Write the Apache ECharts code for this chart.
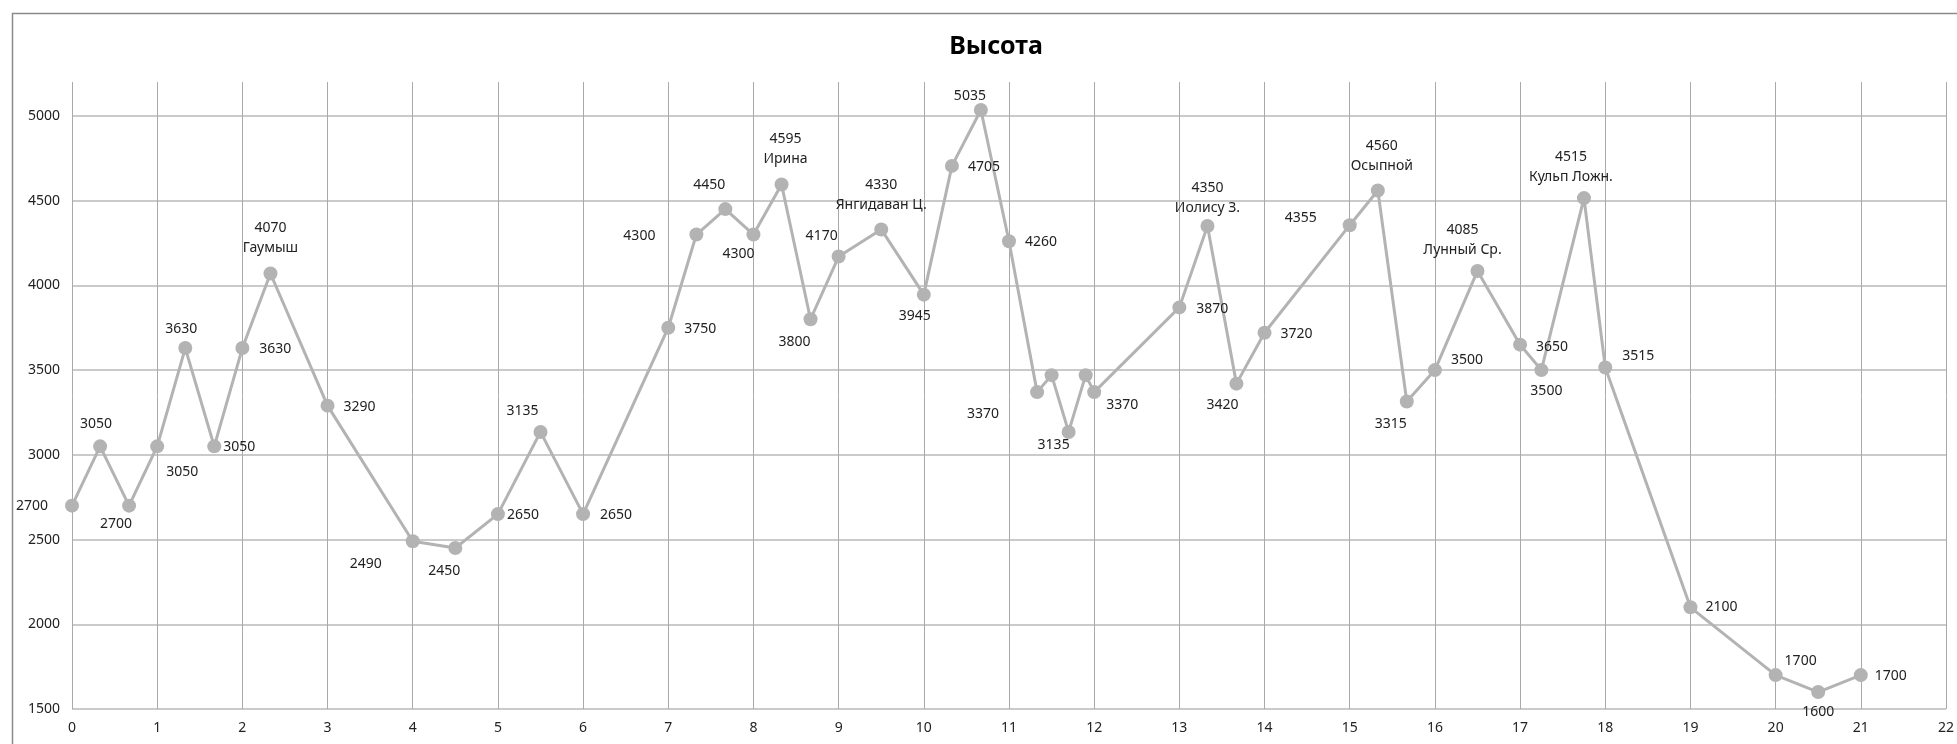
<!DOCTYPE html>
<html>
<head>
<meta charset="utf-8">
<script src="https://cdn.jsdelivr.net/npm/echarts@6/dist/echarts.min.js"></script>
<style>html,body{margin:0;padding:0;background:#fff}#c{width:1957px;height:744px}</style>
</head>
<body>
<div id="c"></div>
<script>
// ---- data ----
const titleText = 'Высота';
const distances = [0, 0.33, 0.67, 1, 1.33, 1.67, 2, 2.33, 3, 4, 4.5, 5, 5.5, 6, 7, 7.33, 7.67, 8, 8.33, 8.67, 9, 9.5, 10, 10.33, 10.67, 11, 11.33, 11.5, 11.7, 11.9, 12, 13, 13.33, 13.67, 14, 15, 15.33, 15.67, 16, 16.5, 17, 17.25, 17.75, 18, 19, 20, 20.5, 21];
const heights = [2700, 3050, 2700, 3050, 3630, 3050, 3630, 4070, 3290, 2490, 2450, 2650, 3135, 2650, 3750, 4300, 4450, 4300, 4595, 3800, 4170, 4330, 3945, 4705, 5035, 4260, 3370, 3470, 3135, 3470, 3370, 3870, 4350, 3420, 3720, 4355, 4560, 3315, 3500, 4085, 3650, 3500, 4515, 3515, 2100, 1700, 1600, 1700];
const pointNames = ['', '', '', '', '', '', '', 'Гаумыш', '', '', '', '', '', '', '', '', '', '', 'Ирина', '', '', 'Янгидаван Ц.', '', '', '', '', '', '', '', '', '', '', 'Иолису З.', '', '', '', 'Осыпной', '', '', 'Лунный Ср.', '', '', 'Кульп Ложн.', '', '', '', '', ''];
const showLabel = [1,1,1,1,1,1,1,1,1,1,1,1,1,1,1,1,1,1,1,1,1,1,1,1,1,1,1,0,1,0,1,1,1,1,1,1,1,1,1,1,1,1,1,1,1,1,1,1];
const xTicks = {min: 0, max: 22, step: 1};
const yTicks = {min: 1500, max: 5200, step: 500};

// ---- label placement (style only): label centre relative to point centre ----
const labelOffsets = [
  [-40,0],[-4,-22],[-13,18],[25,26],[-4,-19],[25,1],[33,1],[0,-35],[32,1],[-47,23],
  [-11,23],[25,1],[-18,-21],[33,1],[32,1],[-57,2],[-16,-24],[-15,20],[4,-36],[-16,23],
  [-17,-21],[0,-34],[-9,21],[32,1],[-11,-14],[32,1],[-54,22],[0,0],[-15,13],[0,0],
  [28,13],[33,2],[0,-28],[-14,21],[32,1],[-49,-7],[4,-34],[-16,23],[32,-10],[-15,-31],
  [32,2],[5,21],[-13,-31],[33,-12],[31,0],[25,-14],[0,20],[30,1]
];

const FONT = "'Noto Sans', sans-serif";
const seriesData = distances.map((d, i) => ({
  value: [d, heights[i]],
  label: {
    show: !!showLabel[i],
    formatter: pointNames[i] ? heights[i] + '\n' + pointNames[i] : String(heights[i])
  }
}));

const chart = echarts.init(document.getElementById('c'), null, {renderer: 'canvas'});
chart.setOption({
  backgroundColor: '#ffffff',
  animation: false,
  textStyle: {fontFamily: FONT},
  title: {
    text: titleText,
    left: 991, top: 29,
    textAlign: 'center',
    textStyle: {fontFamily: FONT, fontWeight: 'bold', fontSize: 25, color: '#000'}
  },
  graphic: [{
    type: 'rect', left: 10, top: 11, silent: true,
    shape: {width: 2100, height: 900},
    style: {fill: 'none', stroke: '#8a8a8a', lineWidth: 1.5}
  }],
  grid: {left: 72, right: 11, top: 82, bottom: 35, containLabel: false},
  xAxis: {
    type: 'value', min: xTicks.min, max: xTicks.max, interval: xTicks.step,
    axisLine: {show: false}, axisTick: {show: false},
    axisLabel: {color: '#222', fontSize: 14, fontFamily: FONT, margin: 12},
    splitLine: {show: true, lineStyle: {color: '#a9a9a9', width: 1}}
  },
  yAxis: {
    type: 'value', min: yTicks.min, max: yTicks.max, interval: yTicks.step,
    axisLine: {show: false}, axisTick: {show: false},
    axisLabel: {color: '#222', fontSize: 14, fontFamily: FONT, margin: 12, showMaxLabel: false,
      formatter: v => String(v)},
    splitLine: {show: true, showMaxLine: false, lineStyle: {color: '#b8b8b8', width: 1.5}}
  },
  series: [{
    type: 'line',
    data: seriesData,
    symbol: 'circle',
    symbolSize: 14,
    lineStyle: {color: '#b3b3b3', width: 3},
    itemStyle: {color: '#b3b3b3'},
    label: {show: true, position: 'inside', align: 'center', verticalAlign: 'middle', lineHeight: 20,
      color: '#222', fontSize: 14, fontFamily: FONT},
    labelLayout: function (params) {
      const o = labelOffsets[params.dataIndex] || [0, 0];
      const cx = params.rect.x + params.rect.width / 2;
      const cy = params.rect.y + params.rect.height / 2;
      return {
        x: cx + o[0],
        y: cy + o[1],
        align: 'center',
        verticalAlign: 'middle',
        hideOverlap: false,
        moveOverlap: null
      };
    },
    z: 3
  }]
});
</script>
</body>
</html>
